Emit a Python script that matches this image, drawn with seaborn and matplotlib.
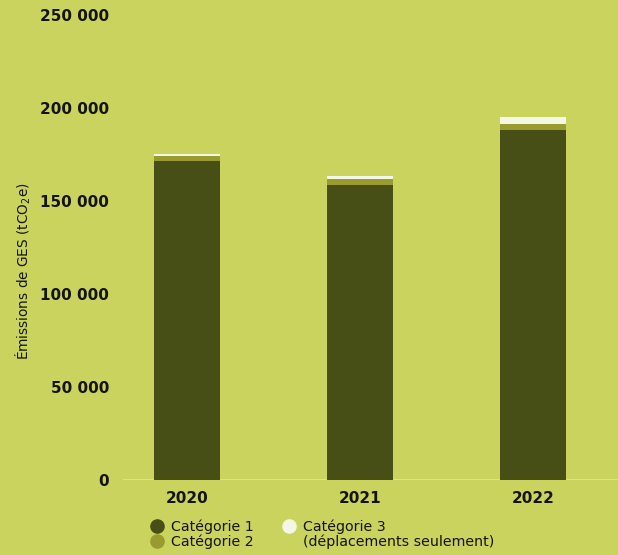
import numpy as np
import pandas as pd
import matplotlib
matplotlib.use("Agg")
import matplotlib.pyplot as plt
from matplotlib.lines import Line2D
import seaborn as sns

years = ["2020", "2021", "2022"]
cat1 = [171700, 158400, 188000]
cat2 = [2700, 3600, 3200]
cat3 = [700, 1200, 3800]
yticks = [0, 50000, 100000, 150000, 200000, 250000]
ytick_labels = ["0", "50 000", "100 000", "150 000", "200 000", "250 000"]
legend_labels = ["Catégorie 1", "Catégorie 2", "Catégorie 3", "(déplacements seulement)"]

bg = "#c9d35d"
c1 = "#484f16"
c2 = "#9a9b2e"
c3 = "#f4f7e6"
ink = "#141414"

sns.set_style("white")
plt.rcParams["font.family"] = ["DejaVu Sans"]

df = pd.DataFrame({"year": years, "c1": cat1, "c2": cat2, "c3": cat3})
df["s12"] = df["c1"] + df["c2"]
df["s123"] = df["s12"] + df["c3"]

fig = plt.figure(figsize=(6.18, 5.55), dpi=100, facecolor=bg)
ax = fig.add_axes([123 / 618, 75 / 555, 1 - 123 / 618, 465 / 555])
ax.set_facecolor(bg)

# stacked bars: draw cumulative totals from top layer down
for col, color in [("s123", c3), ("s12", c2), ("c1", c1)]:
    sns.barplot(data=df, x="year", y=col, color=color, width=0.38,
                saturation=1, ax=ax, linewidth=0)

ax.axhline(0, color="#dfe3c2", lw=1.8, zorder=0.5)
ax.set_xlim(-0.37, 2.49)
ax.set_ylim(0, 250000)
ax.set_yticks(yticks)
ax.set_yticklabels(ytick_labels, fontsize=11, fontweight="bold", color=ink)
ax.set_xticks(range(len(years)))
ax.set_xticklabels(years, fontsize=11, fontweight="bold", color=ink)
ax.tick_params(axis="y", length=0, pad=10)
ax.tick_params(axis="x", length=0, pad=8)
ax.set_xlabel("")
ax.set_ylabel("")
for s in ax.spines.values():
    s.set_visible(False)

fig.text(23 / 618, 1 - 271 / 555, "Émissions de GES (tCO$_2$e)", rotation=90,
         ha="center", va="center", fontsize=9.8, color=ink)

def dot(c):
    return Line2D([], [], marker="o", linestyle="", markersize=9.5,
                  markerfacecolor=c, markeredgecolor=c)

blank = Line2D([], [], linestyle="", marker="")
common = dict(loc="upper left", frameon=False, fontsize=10.2, handlelength=0.85,
              handletextpad=0.55, labelspacing=0.08, borderpad=0,
              borderaxespad=0, labelcolor=ink)
leg1 = fig.legend([dot(c1), dot(c2)], legend_labels[:2],
                  bbox_to_anchor=(151 / 618, 1 - 519 / 555), **common)
leg2 = fig.legend([dot(c3), blank], legend_labels[2:],
                  bbox_to_anchor=(283 / 618, 1 - 519 / 555), **common)

fig.savefig("out.png", dpi=100, facecolor=bg)
